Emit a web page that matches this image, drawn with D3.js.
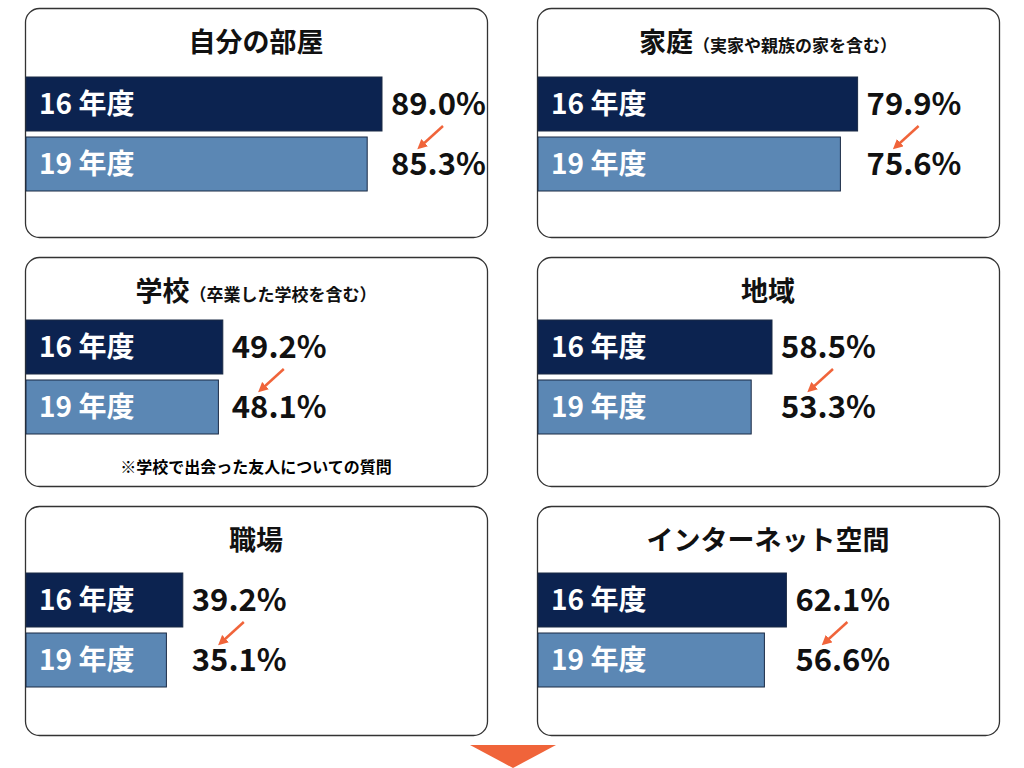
<!DOCTYPE html>
<html><head><meta charset="utf-8">
<script src="https://cdn.jsdelivr.net/npm/d3@7"></script>
<style>body{margin:0;background:#fff}svg{display:block}text{font-family:"Noto Sans CJK JP","Noto Sans",sans-serif}</style>
</head><body><svg id="c" width="1024" height="768"></svg>
<script>
const titles = ["自分の部屋","家庭","学校","地域","職場","インターネット空間"];
const subtitles = ["","（実家や親族の家を含む）","（卒業した学校を含む）","","",""];
const years = ["16 年度","19 年度"];
const values16 = [89.0,79.9,49.2,58.5,39.2,62.1];
const values19 = [85.3,75.6,48.1,53.3,35.1,56.6];
const notes = ["","","※学校で出会った友人についての質問","","",""];

const svg = d3.select("#c");
const defs = svg.append("defs");
defs.append("marker").attr("id","ah").attr("viewBox","0 0 10 10").attr("refX",5).attr("refY",5)
  .attr("markerWidth",4).attr("markerHeight",4).attr("orient","auto")
  .append("path").attr("d","M0,0L10,5L0,10z").attr("fill","#f0643a");
const x = d3.scaleLinear().domain([0,100]).range([0,400]);
const colX = [25,537], rowY=[8,257,506], W=462, H=229;
const barOff=[69,63,67], barH=54, gap=6;
titles.forEach((t,i)=>{
  const px=colX[i%2], py=rowY[Math.floor(i/2)], g=svg.append("g").attr("transform",`translate(${px},${py})`);
  g.append("rect").attr("x",0.5).attr("y",0.5).attr("width",W).attr("height",H).attr("rx",14)
   .attr("fill","#fff").attr("stroke","#333").attr("stroke-width",1.3);
  const tt=g.append("text").attr("x",W/2).attr("y",44).attr("text-anchor","middle").attr("font-weight","bold").attr("font-size",27).attr("fill","#111");
  tt.append("tspan").text(t);
  if(subtitles[i]) tt.append("tspan").attr("font-size",17).text(subtitles[i]);
  const by=barOff[Math.floor(i/2)];
  const vals=[values16[i],values19[i]];
  vals.forEach((v,j)=>{
    const y=by+j*(barH+gap);
    g.append("rect").attr("x",1).attr("y",y).attr("width",x(v)).attr("height",barH)
     .attr("fill",j?"#5b87b4":"#0c2350").attr("stroke","#1a2a45").attr("stroke-width",1);
    g.append("text").attr("x",14).attr("y",y+barH/2+10).attr("fill","#fff").attr("font-size",28).attr("font-weight","bold").text(years[j]);
  });
  const lx=x(values16[i])+10;
  vals.forEach((v,j)=>{
    const y=by+j*(barH+gap);
    g.append("text").attr("x",lx).attr("y",y+barH/2+11).attr("font-size",31).attr("font-weight","bold").attr("fill","#111").text(v.toFixed(1)+"%");
  });
  g.append("line").attr("x1",lx+52).attr("y1",by+barH-5).attr("x2",lx+30).attr("y2",by+barH+15)
   .attr("stroke","#f0643a").attr("stroke-width",2.5).attr("marker-end","url(#ah)");
  if(notes[i]) g.append("text").attr("x",W/2).attr("y",216).attr("text-anchor","middle").attr("font-size",16).attr("font-weight","bold").text(notes[i]);
});
svg.append("path").attr("d","M470,745L556,745L513,768Z").attr("fill","#f0643a");
</script></body></html>
